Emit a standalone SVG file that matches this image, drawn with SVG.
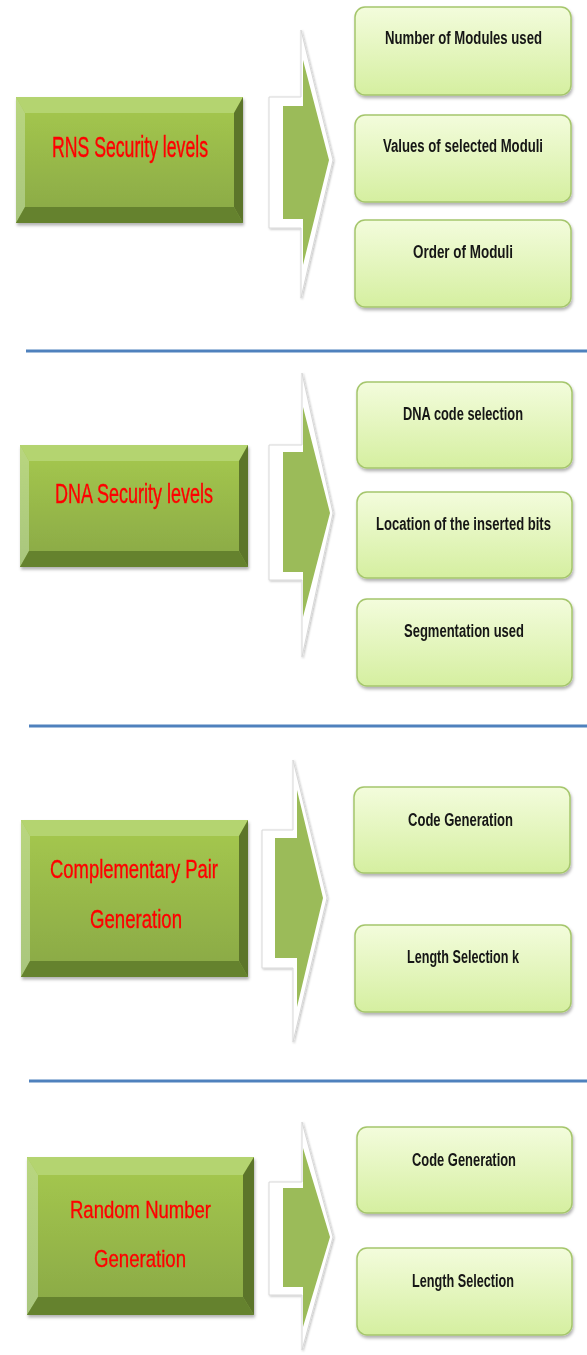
<svg xmlns="http://www.w3.org/2000/svg" width="587" height="1355" viewBox="0 0 587 1355">
  <style>
    .face{fill:url(#faceGrad)}
    .bev-t{fill:#b4d46f}
    .bev-l{fill:url(#leftGrad)}
    .bev-r{fill:#5c752b}
    .bev-b{fill:#65822f}
    .title{font-family:"Liberation Sans",Arial,sans-serif;font-size:18px;fill:#ff0000;stroke:#ff0000;stroke-width:0.25;text-anchor:middle}
    .item{fill:url(#itemGrad);stroke:#a5c66c;stroke-width:1.5}
    .label{font-family:"Liberation Sans",Arial,sans-serif;font-weight:bold;font-size:13.5px;fill:#141414;text-anchor:middle}
    .arrow-out{fill:#ffffff;stroke:#d8d8d8;stroke-width:1}
    .arrow-in{fill:#9bbb59}
    .divider{stroke:#4f81bd;stroke-width:3}
  </style>
  <defs>
    <linearGradient id="faceGrad" x1="0" y1="0" x2="0" y2="1">
      <stop offset="0" stop-color="#a6c94f"/>
      <stop offset="1" stop-color="#89a845"/>
    </linearGradient>
    <linearGradient id="leftGrad" x1="0" y1="0" x2="0" y2="1">
      <stop offset="0" stop-color="#b9d67f"/>
      <stop offset="1" stop-color="#a9c67e"/>
    </linearGradient>
    <linearGradient id="itemGrad" x1="0" y1="0" x2="0" y2="1">
      <stop offset="0" stop-color="#f3fcdc"/>
      <stop offset="1" stop-color="#d5efa0"/>
    </linearGradient>
    <filter id="shadow" x="-10%" y="-10%" width="120%" height="130%">
      <feDropShadow dx="1" dy="2.5" stdDeviation="1.5" flood-color="#000" flood-opacity="0.3"/>
    </filter>
    <filter id="shadow2" x="-20%" y="-10%" width="140%" height="120%">
      <feDropShadow dx="1" dy="1" stdDeviation="1.2" flood-color="#000" flood-opacity="0.25"/>
    </filter>
  </defs>

  <!-- section dividers -->
  <g id="dividers">
    <line class="divider" x1="26" y1="351" x2="587" y2="351"/>
    <line class="divider" x1="29" y1="726" x2="587" y2="726"/>
    <line class="divider" x1="29" y1="1081" x2="587" y2="1081" stroke-width="2.5"/>
  </g>

  <!-- bevelled category boxes; titles are stretched vertically -->
  <g id="rns-levels" filter="url(#shadow)">
    <rect class="face" x="16" y="97" width="227" height="126"/>
    <polygon class="bev-t" points="16,97 243,97 234,113 25,113"/>
    <polygon class="bev-l" points="16,97 25,113 25,207 16,223"/>
    <polygon class="bev-r" points="243,97 243,223 234,207 234,113"/>
    <polygon class="bev-b" points="16,223 25,207 234,207 243,223"/>
    <text class="title" transform="translate(130,157) scale(1,1.6)" textLength="156" lengthAdjust="spacingAndGlyphs">RNS Security levels</text>
  </g>

  <g id="dna-levels" filter="url(#shadow)">
    <rect class="face" x="20" y="445" width="228" height="122"/>
    <polygon class="bev-t" points="20,445 248,445 239,461 29,461"/>
    <polygon class="bev-l" points="20,445 29,461 29,551 20,567"/>
    <polygon class="bev-r" points="248,445 248,567 239,551 239,461"/>
    <polygon class="bev-b" points="20,567 29,551 239,551 248,567"/>
    <text class="title" transform="translate(134,503) scale(1,1.5)" textLength="158" lengthAdjust="spacingAndGlyphs">DNA Security levels</text>
  </g>

  <g id="pair-generation" filter="url(#shadow)">
    <rect class="face" x="21" y="820" width="227" height="157"/>
    <polygon class="bev-t" points="21,820 248,820 239,836 30,836"/>
    <polygon class="bev-l" points="21,820 30,836 30,961 21,977"/>
    <polygon class="bev-r" points="248,820 248,977 239,961 239,836"/>
    <polygon class="bev-b" points="21,977 30,961 239,961 248,977"/>
    <text class="title" transform="translate(134,878) scale(1,1.4)" textLength="168" lengthAdjust="spacingAndGlyphs">Complementary Pair</text>
    <text class="title" transform="translate(136,928) scale(1,1.4)" textLength="92" lengthAdjust="spacingAndGlyphs">Generation</text>
  </g>

  <g id="random-generation" filter="url(#shadow)">
    <rect class="face" x="27" y="1157" width="227" height="158"/>
    <polygon class="bev-t" points="27,1157 254,1157 243,1175 38,1175"/>
    <polygon class="bev-l" points="27,1157 38,1175 38,1297 27,1315"/>
    <polygon class="bev-r" points="254,1157 254,1315 243,1297 243,1175"/>
    <polygon class="bev-b" points="27,1315 38,1297 243,1297 254,1315"/>
    <text class="title" transform="translate(140.5,1218) scale(1,1.35)" textLength="141" lengthAdjust="spacingAndGlyphs">Random Number</text>
    <text class="title" transform="translate(140,1267) scale(1,1.35)" textLength="92" lengthAdjust="spacingAndGlyphs">Generation</text>
  </g>

  <!-- block arrows leading to the detail boxes -->
  <g id="connectors">
    <g id="arrow-rns">
      <polygon class="arrow-out" filter="url(#shadow2)" points="269,97 301,97 301,30 333,160 301,298 301,228 269,228"/>
      <polygon class="arrow-in" points="283,106 303,106 303,60 329,160 303,265 303,219 283,219"/>
    </g>
    <g id="arrow-dna">
      <polygon class="arrow-out" filter="url(#shadow2)" points="269,445 302,445 302,373 333,513 302,657 302,580 269,580"/>
      <polygon class="arrow-in" points="283,452 303,452 303,407 330,513 303,617 303,572 283,572"/>
    </g>
    <g id="arrow-pair">
      <polygon class="arrow-out" filter="url(#shadow2)" points="262,830 293,830 293,760 327,898 293,1042 293,968 262,968"/>
      <polygon class="arrow-in" points="275,838 297,838 297,790 323,898 297,1007 297,958 275,958"/>
    </g>
    <g id="arrow-random">
      <polygon class="arrow-out" filter="url(#shadow2)" points="269,1182 302,1182 302,1122 333,1237 302,1350 302,1295 269,1295"/>
      <polygon class="arrow-in" points="283,1188 303,1188 303,1148 330,1237 303,1327 303,1287 283,1287"/>
    </g>
  </g>

  <!-- detail boxes; labels are stretched vertically -->
  <g id="rns-modules-count" filter="url(#shadow)">
    <rect class="item" x="355" y="7" width="216" height="88" rx="10"/>
    <text class="label" transform="translate(463.5,44) scale(1,1.42)" textLength="157" lengthAdjust="spacingAndGlyphs">Number of Modules used</text>
  </g>
  <g id="rns-moduli-values" filter="url(#shadow)">
    <rect class="item" x="355" y="115" width="216" height="87" rx="10"/>
    <text class="label" transform="translate(463,152) scale(1,1.42)" textLength="160" lengthAdjust="spacingAndGlyphs">Values of selected Moduli</text>
  </g>
  <g id="rns-moduli-order" filter="url(#shadow)">
    <rect class="item" x="355" y="220" width="216" height="87" rx="10"/>
    <text class="label" transform="translate(463,258) scale(1,1.42)" textLength="100" lengthAdjust="spacingAndGlyphs">Order of Moduli</text>
  </g>

  <g id="dna-code" filter="url(#shadow)">
    <rect class="item" x="357" y="382" width="215" height="86" rx="10"/>
    <text class="label" transform="translate(463,420) scale(1,1.42)" textLength="120" lengthAdjust="spacingAndGlyphs">DNA code selection</text>
  </g>
  <g id="dna-location" filter="url(#shadow)">
    <rect class="item" x="357" y="492" width="215" height="86" rx="10"/>
    <text class="label" transform="translate(463.5,530) scale(1,1.42)" textLength="175" lengthAdjust="spacingAndGlyphs">Location of the inserted bits</text>
  </g>
  <g id="dna-segmentation" filter="url(#shadow)">
    <rect class="item" x="357" y="599" width="215" height="87" rx="10"/>
    <text class="label" transform="translate(464,637) scale(1,1.42)" textLength="120" lengthAdjust="spacingAndGlyphs">Segmentation used</text>
  </g>

  <g id="pair-code" filter="url(#shadow)">
    <rect class="item" x="354" y="787" width="216" height="86" rx="10"/>
    <text class="label" transform="translate(460.5,826) scale(1,1.42)" textLength="105" lengthAdjust="spacingAndGlyphs">Code Generation</text>
  </g>
  <g id="pair-length" filter="url(#shadow)">
    <rect class="item" x="355" y="925" width="216" height="87" rx="10"/>
    <text class="label" transform="translate(463,963) scale(1,1.42)" textLength="112" lengthAdjust="spacingAndGlyphs">Length Selection k</text>
  </g>

  <g id="random-code" filter="url(#shadow)">
    <rect class="item" x="357" y="1127" width="215" height="86" rx="10"/>
    <text class="label" transform="translate(464,1166) scale(1,1.42)" textLength="104" lengthAdjust="spacingAndGlyphs">Code Generation</text>
  </g>
  <g id="random-length" filter="url(#shadow)">
    <rect class="item" x="357" y="1248" width="215" height="87" rx="10"/>
    <text class="label" transform="translate(463,1287) scale(1,1.42)" textLength="102" lengthAdjust="spacingAndGlyphs">Length Selection</text>
  </g>
</svg>
